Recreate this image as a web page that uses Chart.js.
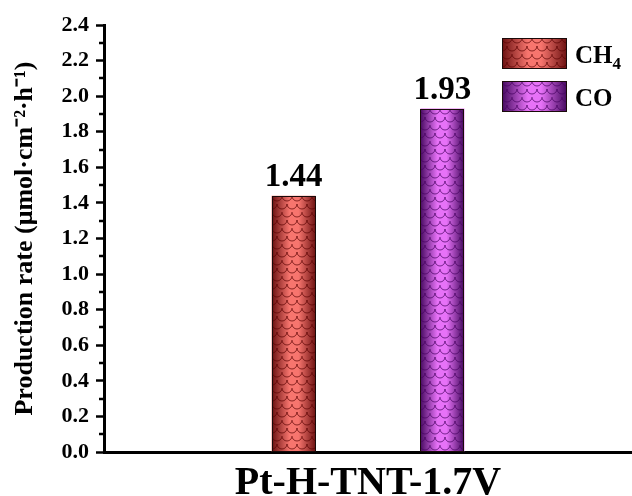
<!DOCTYPE html>
<html>
<head>
<meta charset="utf-8">
<script src="https://cdn.jsdelivr.net/npm/chart.js@4.4.1/dist/chart.umd.min.js"></script>
<style>
  html, body { margin: 0; padding: 0; background: #fff; }
  #wrap { width: 632px; height: 496px; }
</style>
</head>
<body>
<div id="wrap"><canvas id="rateChart" width="632" height="496"></canvas></div>
<script>
const categories = ["Pt-H-TNT-1.7V"];
const seriesNames = ["CH4", "CO"];
const ch4Rate = [1.44];
const coRate = [1.93];
const yTicks = [0, 0.2, 0.4, 0.6, 0.8, 1.0, 1.2, 1.4, 1.6, 1.8, 2.0, 2.2, 2.4];
const yMinorTicks = [0.1, 0.3, 0.5, 0.7, 0.9, 1.1, 1.3, 1.5, 1.7, 1.9, 2.1, 2.3];

const FONT = '"Liberation Serif", "Times New Roman", serif';

// colours for the two skins: edge, centre, scale lines
const skins = [
    {edge: "#6a1010", mid: "#f7756e", line: "rgba(90,0,0,0.7)"},
    {edge: "#44095e", mid: "#e772f8", line: "rgba(70,0,95,0.7)"}
];

function makeScales(lineColor) {
    const w = 10, h = 8;
    const c = document.createElement("canvas");
    c.width = w; c.height = h * 2;
    const g = c.getContext("2d");
    g.strokeStyle = lineColor;
    g.lineWidth = 1;
    [[w/2, 0], [0, h], [w, h], [w/2, 2*h]].forEach(([cx, cy]) => {
        g.beginPath();
        g.arc(cx, cy, w/2, 0, Math.PI);
        g.stroke();
    });
    return c;
}

function paintSkin(ctx, l, t, w, h, skin) {
    ctx.save();
    const grad = ctx.createLinearGradient(l, 0, l + w, 0);
    grad.addColorStop(0, skin.edge);
    grad.addColorStop(0.4, skin.mid);
    grad.addColorStop(0.6, skin.mid);
    grad.addColorStop(1, skin.edge);
    ctx.fillStyle = grad;
    ctx.fillRect(l, t, w, h);
    const pat = ctx.createPattern(makeScales(skin.line), "repeat");
    ctx.translate(l, t);
    ctx.fillStyle = pat;
    ctx.fillRect(0, 0, w, h);
    ctx.strokeStyle = "#1a0a0a";
    ctx.lineWidth = 1;
    ctx.strokeRect(0.5, 0.5, w - 1, h - 1);
    ctx.restore();
}

const barSkin = {
    id: "barSkin",
    afterDatasetsDraw(chart) {
        const ctx = chart.ctx;
        chart.data.datasets.forEach((ds, di) => {
            chart.getDatasetMeta(di).data.forEach((bar, i) => {
                const {x, y, base, width} = bar.getProps(["x", "y", "base", "width"], true);
                paintSkin(ctx, Math.round(x - width/2), Math.round(y), Math.round(width), Math.round(base - y), skins[di]);
                ctx.save();
                ctx.fillStyle = "#000";
                ctx.font = "bold 33px " + FONT;
                ctx.textAlign = "center";
                ctx.textBaseline = "alphabetic";
                ctx.fillText(ds.data[i].toFixed(2), x, y - 10);
                ctx.restore();
            });
        });
    },
    afterDraw(chart) {
        const ctx = chart.ctx;
        const ys = chart.scales.y;
        const area = chart.chartArea;
        // minor ticks
        ctx.save();
        ctx.strokeStyle = "#000";
        ctx.lineWidth = 2.5;
        yMinorTicks.forEach(v => {
            const py = Math.round(ys.getPixelForValue(v));
            ctx.beginPath();
            ctx.moveTo(area.left - 5, py);
            ctx.lineTo(area.left, py);
            ctx.stroke();
        });
        // legend
        const bx = area.right - 130, by = area.top + 13;
        chart.data.datasets.forEach((ds, di) => {
            const top = by + di * 43;
            paintSkin(ctx, bx, top, 65, 31, skins[di]);
            ctx.fillStyle = "#000";
            ctx.textBaseline = "alphabetic";
            ctx.textAlign = "left";
            ctx.font = "bold 25px " + FONT;
            const name = ds.label;
            const m = name.match(/^([A-Za-z]+)(\d*)$/);
            ctx.fillText(m[1], bx + 73, top + 25);
            if (m[2]) {
                const wMain = ctx.measureText(m[1]).width;
                ctx.font = "bold 17px " + FONT;
                ctx.fillText(m[2], bx + 73 + wMain, top + 31);
            }
        });
        ctx.restore();
    }
};

new Chart(document.getElementById("rateChart"), {
    type: "bar",
    data: {
        labels: categories,
        datasets: [
            {label: seriesNames[0], data: ch4Rate, backgroundColor: skins[0].mid},
            {label: seriesNames[1], data: coRate, backgroundColor: skins[1].mid}
        ]
    },
    options: {
        responsive: false,
        animation: false,
        events: [],
        layout: {padding: {left: 0, right: 0, top: 25, bottom: 0}},
        categoryPercentage: 0.564,
        barPercentage: 0.295,
        plugins: {legend: {display: false}, tooltip: {enabled: false}},
        scales: {
            x: {
                grid: {display: false},
                border: {color: "#000", width: 3},
                ticks: {color: "#000", font: {family: FONT, size: 40, weight: "bold"}, padding: 0},
                afterFit: s => { s.height = 44; }
            },
            y: {
                min: 0, max: 2.4,
                afterBuildTicks: s => { s.ticks = yTicks.map(v => ({value: v})); },
                grid: {drawOnChartArea: false, drawTicks: true, tickLength: 8, tickWidth: 2.5, color: "#000"},
                border: {color: "#000", width: 3},
                ticks: {
                    color: "#000",
                    padding: 7,
                    font: {family: FONT, size: 22, weight: "bold"},
                    callback: v => v.toFixed(1)
                },
                title: {
                    display: true,
                    text: "Production rate (μmol·cm⁻²·h⁻¹)",
                    color: "#000",
                    font: {family: FONT, size: 26, weight: "bold"},
                    padding: {top: 10, bottom: 0}
                },
                afterFit: s => { s.width = 104; }
            }
        }
    },
    plugins: [barSkin]
});
</script>
</body>
</html>
